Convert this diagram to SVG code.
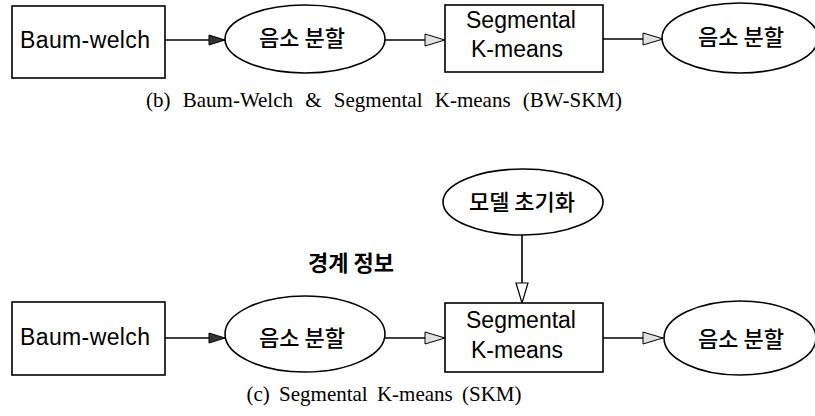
<svg xmlns="http://www.w3.org/2000/svg" width="815" height="416" viewBox="0 0 815 416">
<defs>
<style>
.box{fill:#fff;stroke:#000;stroke-width:1.6}
.lbl{font-family:"Liberation Sans",Arial,sans-serif;font-size:23px;fill:#000;text-anchor:middle}
.kr{font-family:"Noto Sans CJK KR","Liberation Sans",sans-serif;font-size:22px;font-weight:500;fill:#000;text-anchor:middle}
.cap{font-family:"Liberation Serif","Times New Roman",serif;font-size:21px;fill:#000;text-anchor:middle}
.ln{stroke:#000;stroke-width:1.6;fill:none}
</style>
<marker id="dark" markerWidth="18" markerHeight="12" refX="17" refY="6" orient="auto" markerUnits="userSpaceOnUse">
<path d="M1,1 L17,6 L1,11 Z" fill="#333" stroke="#000" stroke-width="1"/>
</marker>
<marker id="open" markerWidth="22" markerHeight="14" refX="21" refY="7" orient="auto" markerUnits="userSpaceOnUse">
<path d="M1,1 L21,7 L1,13 Z" fill="#e0e0e0" stroke="#000" stroke-width="1"/>
</marker>
<marker id="openw" markerWidth="22" markerHeight="14" refX="21" refY="7" orient="auto" markerUnits="userSpaceOnUse">
<path d="M1,1 L21,7 L1,13 Z" fill="#fff" stroke="#000" stroke-width="1.2"/>
</marker>
</defs>
<rect width="815" height="416" fill="#fff"/>

<g id="connectors">
<line class="ln" x1="165" y1="40" x2="225" y2="40" marker-end="url(#dark)"/>
<line class="ln" x1="385" y1="40" x2="445" y2="40" marker-end="url(#open)"/>
<line class="ln" x1="603" y1="39" x2="663" y2="39" marker-end="url(#open)"/>
<line class="ln" x1="165" y1="338" x2="225" y2="338" marker-end="url(#dark)"/>
<line class="ln" x1="385" y1="338" x2="445" y2="338" marker-end="url(#open)"/>
<line class="ln" x1="603" y1="338" x2="663" y2="338" marker-end="url(#open)"/>
<line class="ln" x1="522" y1="235" x2="522" y2="303" marker-end="url(#openw)"/>
</g>

<g id="b-baumwelch">
<rect class="box" x="12" y="6" width="153" height="72"/>
<text class="lbl" x="85" y="48" textLength="130">Baum-welch</text>
</g>
<g id="b-seg1">
<ellipse class="box" cx="305" cy="39" rx="80" ry="34"/>
<text class="kr" x="302" y="46">음소 분할</text>
</g>
<g id="b-skm">
<rect class="box" x="445" y="5" width="158" height="67"/>
<text class="lbl" x="521" y="28">Segmental</text>
<text class="lbl" x="517" y="57">K-means</text>
</g>
<g id="b-seg2">
<ellipse class="box" cx="740" cy="38" rx="78" ry="35"/>
<text class="kr" x="741" y="45">음소 분할</text>
</g>
<text class="cap" x="384" y="107" style="word-spacing:7px">(b) Baum-Welch &amp; Segmental K-means (BW-SKM)</text>

<g id="c-init">
<ellipse class="box" cx="523" cy="202" rx="80" ry="33"/>
<text class="kr" x="522" y="210">모델 초기화</text>
</g>
<text class="kr" x="351" y="271" style="font-weight:bold">경계 정보</text>
<g id="c-baumwelch">
<rect class="box" x="12" y="302" width="153" height="73"/>
<text class="lbl" x="85" y="345" textLength="130">Baum-welch</text>
</g>
<g id="c-seg1">
<ellipse class="box" cx="305" cy="334" rx="80" ry="38"/>
<text class="kr" x="302" y="346">음소 분할</text>
</g>
<g id="c-skm">
<rect class="box" x="445" y="303" width="158" height="69"/>
<text class="lbl" x="521" y="328">Segmental</text>
<text class="lbl" x="517" y="358">K-means</text>
</g>
<g id="c-seg2">
<ellipse class="box" cx="740" cy="338" rx="76" ry="37"/>
<text class="kr" x="741" y="347">음소 분할</text>
</g>
<text class="cap" x="384" y="401" style="word-spacing:4px">(c) Segmental K-means (SKM)</text>
</svg>
